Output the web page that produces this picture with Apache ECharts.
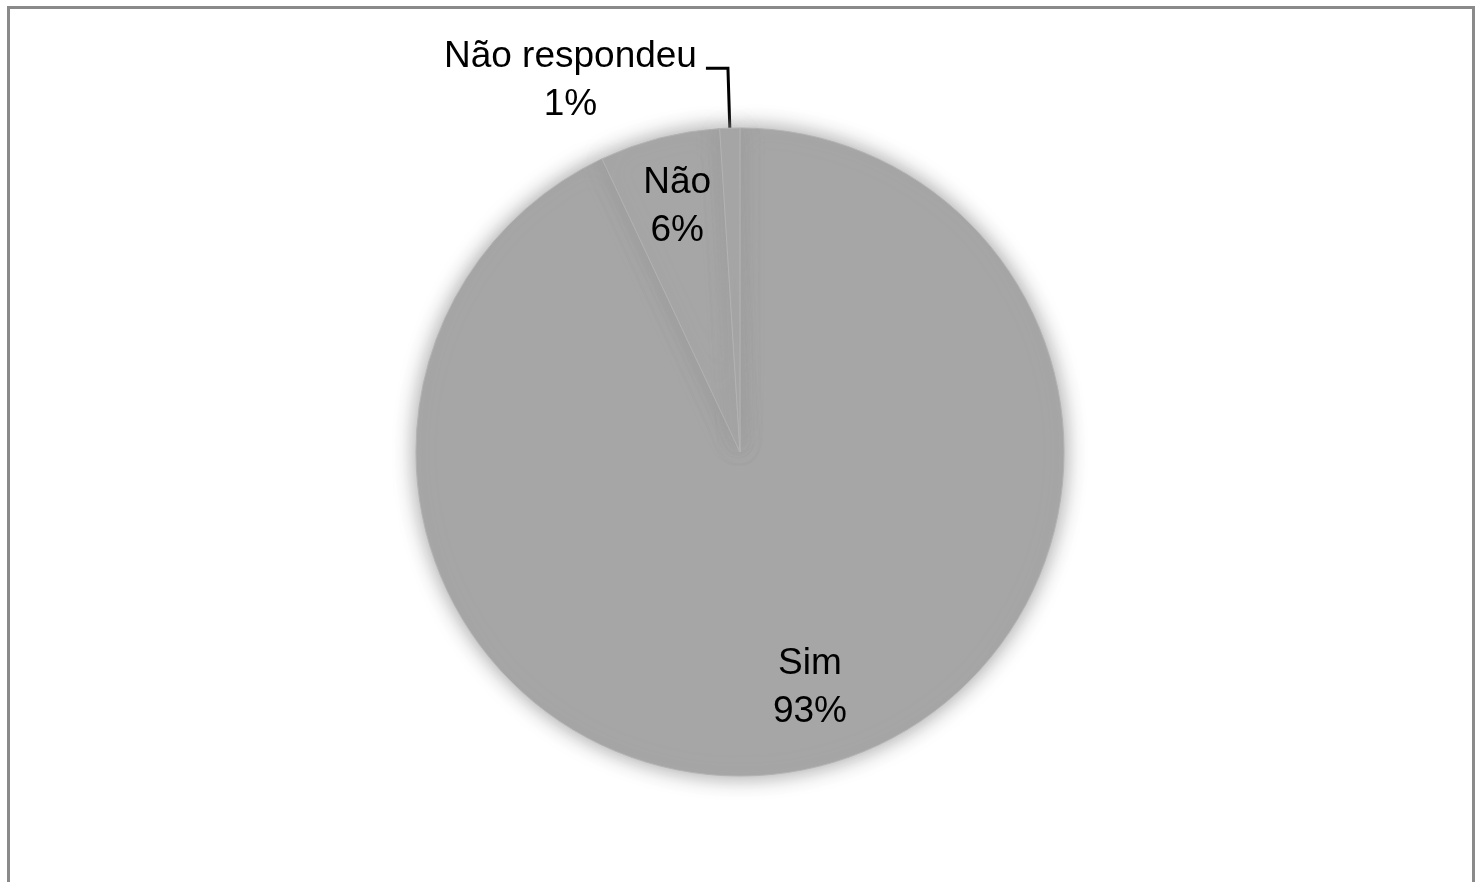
<!DOCTYPE html>
<html>
<head>
<meta charset="utf-8">
<script src="https://cdn.jsdelivr.net/npm/echarts@6/dist/echarts.min.js"></script>
<style>
  html, body { margin: 0; padding: 0; background: #fff; }
  #chart { width: 1477px; height: 882px; position: absolute; left: 0; top: 0; }
  #frame { position: absolute; left: 7px; top: 6px; width: 1462px; height: 900px;
           border-left: 3px solid #8a8a8a; border-top: 3px solid #8a8a8a; border-right: 3px solid #8a8a8a; pointer-events: none; }
</style>
</head>
<body>
<div id="chart"></div>
<div id="frame"></div>
<script>
const categories = ['Sim', 'Não', 'Não respondeu'];
const values = [93, 6, 1];
const percentLabels = ['93%', '6%', '1%'];

const CX = 740, CY = 452, R = 324;
const total = values.reduce((a, b) => a + b, 0);

// label placement for the inside labels (polar: fraction of radius, angle shift in deg)
const insideLabelPlacement = { 0: { f: 0.76, shift: -3.9 }, 1: { f: 0.78, shift: 0 } };

const FONT = '"Liberation Sans", Arial, sans-serif';
const FS = 37;

const chart = echarts.init(document.getElementById('chart'), null, { renderer: 'canvas' });

const data = categories.map((name, i) => {
  const item = { name: name, value: values[i] };
  if (i === 2) {
    item.label = { position: 'outside', padding: [26, 0, 0, 0], distanceToLabelLine: 9 };
    item.labelLine = { show: true, length: 60, length2: 22, smooth: false,
      lineStyle: { color: '#000', width: 3 } };
  }
  return item;
});

chart.setOption({
  animation: false,
  backgroundColor: '#ffffff',
  series: [{
    type: 'pie',
    center: [CX, CY],
    radius: R,
    startAngle: 90,
    clockwise: true,
    avoidLabelOverlap: false,
    data: data,
    itemStyle: {
      color: '#a6a6a6',
      borderColor: '#b3b3b3',
      borderWidth: 1,
      shadowBlur: 22,
      shadowColor: '#9a9a9a'
    },
    label: {
      show: true,
      position: 'inside',
      color: '#000',
      fontFamily: FONT,
      fontSize: FS,
      lineHeight: 48,
      formatter: function (p) {
        return '{t|' + p.name + '}\n{t|' + percentLabels[p.dataIndex] + '}';
      },
      rich: {
        t: { align: 'center', fontSize: FS, lineHeight: 48, color: '#000', fontFamily: FONT }
      }
    },
    labelLine: { show: false },
    emphasis: { disabled: true },
    labelLayout: function (params) {
      const i = params.dataIndex;
      const pl = insideLabelPlacement[i];
      if (!pl) return {};
      let before = 0;
      for (let k = 0; k < i; k++) before += values[k];
      const mid = (before + values[i] / 2) / total * 360 + pl.shift; // deg clockwise from top
      const a = mid * Math.PI / 180;
      return {
        x: CX + Math.sin(a) * R * pl.f,
        y: CY - Math.cos(a) * R * pl.f,
        align: 'center',
        verticalAlign: 'middle'
      };
    }
  }]
});
</script>
</body>
</html>
